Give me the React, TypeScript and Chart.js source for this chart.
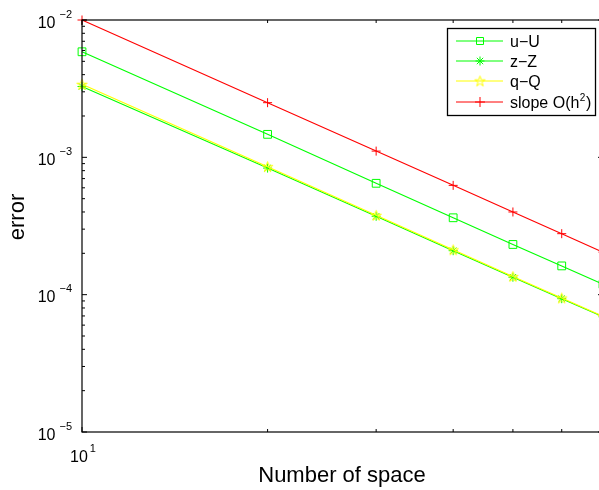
import React, { useEffect, useRef } from "react";
import { Chart, registerables } from "chart.js";

Chart.register(...registerables);

// ---- data ----
const xValues = [10, 20, 30, 40, 50, 60, 70];
const uU = [5.87e-3, 1.47e-3, 6.47e-4, 3.63e-4, 2.32e-4, 1.62e-4, 1.19e-4];
const zZ = [3.28e-3, 8.35e-4, 3.72e-4, 2.09e-4, 1.34e-4, 9.35e-5, 6.9e-5];
const qQ = [3.4e-3, 8.55e-4, 3.78e-4, 2.12e-4, 1.355e-4, 9.45e-5, 6.95e-5];
const slope = [1.0e-2, 2.5e-3, 1.11e-3, 6.25e-4, 4.0e-4, 2.78e-4, 2.04e-4];
const seriesLabels = ["u\u2212U", "z\u2212Z", "q\u2212Q", "slope O(h"];
const slopeSup = "2";
const yTickExps = [-2, -3, -4, -5];
const xTickExps = [1];
const xMinorTicks = [20, 30, 40, 50, 60, 70];
const xLabel = "Number of space";
const yLabel = "error";

const GREEN = "#00ff00";
const YELLOW = "#ffff00";
const RED = "#ff0000";
const FONT = '"Liberation Sans", Arial, Helvetica, sans-serif';

function makePentagram(R: number, color: string, lw: number) {
  const c = document.createElement("canvas");
  const size = Math.ceil(2 * R + 4);
  c.width = size;
  c.height = size;
  const ctx = c.getContext("2d")!;
  const cx = size / 2;
  const cy = size / 2 + 0.5;
  ctx.beginPath();
  for (let i = 0; i < 10; i++) {
    const a = -Math.PI / 2 + (i * Math.PI) / 5;
    const r = i % 2 === 0 ? R : R * 0.382;
    const px = cx + r * Math.cos(a);
    const py = cy + r * Math.sin(a);
    if (i === 0) ctx.moveTo(px, py);
    else ctx.lineTo(px, py);
  }
  ctx.closePath();
  ctx.strokeStyle = color;
  ctx.lineWidth = lw;
  ctx.stroke();
  return c;
}

function supLabel(
  ctx: CanvasRenderingContext2D,
  base: string,
  sup: string,
  x: number,
  baseline: number,
  align: "right" | "center",
  baseSize: number,
  supSize: number,
  gap: number,
  rise: number
) {
  ctx.font = `${baseSize}px ${FONT}`;
  const bw = ctx.measureText(base).width;
  ctx.font = `${supSize}px ${FONT}`;
  const sw = ctx.measureText(sup).width;
  const total = bw + gap + sw;
  const start = align === "right" ? x - total : x - total / 2;
  ctx.textAlign = "left";
  ctx.textBaseline = "alphabetic";
  ctx.font = `${baseSize}px ${FONT}`;
  ctx.fillText(base, start, baseline);
  ctx.font = `${supSize}px ${FONT}`;
  ctx.fillText(sup, start + bw + gap, baseline - rise);
}

export default function App() {
  const ref = useRef<HTMLCanvasElement | null>(null);

  useEffect(() => {
    if (!ref.current) return;
    const penta = makePentagram(5.5, YELLOW, 1);

    const framePlugin = {
      id: "matlabFrame",
      afterDraw(chart: any) {
        const ctx: CanvasRenderingContext2D = chart.ctx;
        const { left, right, top, bottom } = chart.chartArea;
        const xs = chart.scales.x;
        const ys = chart.scales.y;
        ctx.save();
        ctx.strokeStyle = "#000";
        ctx.lineWidth = 1.2;
        ctx.strokeRect(left, top, right - left, bottom - top);
        ctx.lineWidth = 1;
        ctx.beginPath();
        // y ticks
        for (let e = -5; e <= -2; e++) {
          for (let m = 1; m <= 9; m++) {
            const v = m * Math.pow(10, e);
            if (v > 1e-2 + 1e-12) continue;
            const y = ys.getPixelForValue(v);
            const len = m === 1 ? 5 : 3;
            ctx.moveTo(left, y);
            ctx.lineTo(left + len, y);
            ctx.moveTo(right, y);
            ctx.lineTo(right - len, y);
          }
        }
        // x ticks
        const allX = [10, ...xMinorTicks];
        allX.forEach((v) => {
          const x = xs.getPixelForValue(v);
          const len = v === 10 ? 5 : 3;
          ctx.moveTo(x, bottom);
          ctx.lineTo(x, bottom - len);
          ctx.moveTo(x, top);
          ctx.lineTo(x, top + len);
        });
        ctx.stroke();

        ctx.fillStyle = "#000";
        // y tick labels
        yTickExps.forEach((e) => {
          const y = ys.getPixelForValue(Math.pow(10, e));
          supLabel(ctx, "10", "\u2212" + Math.abs(e), left - 10, y + 7.5, "right", 16, 11, 4, 10);
        });
        // x tick labels
        xTickExps.forEach((e) => {
          const x = xs.getPixelForValue(Math.pow(10, e));
          supLabel(ctx, "10", String(e), x + 1, bottom + 30, "center", 16, 11, 2, 10);
        });

        // axis titles
        ctx.font = `22px ${FONT}`;
        ctx.textAlign = "center";
        ctx.textBaseline = "alphabetic";
        ctx.fillText(xLabel, (left + right) / 2 - 0.5, 481.5);
        ctx.save();
        ctx.translate(24, 217);
        ctx.rotate(-Math.PI / 2);
        ctx.fillText(yLabel, 0, 0);
        ctx.restore();

        // legend
        const bx = 447.5, by = 28.5, bw = 148, bh = 87;
        ctx.fillStyle = "#fff";
        ctx.fillRect(bx, by, bw, bh);
        ctx.strokeStyle = "#000";
        ctx.lineWidth = 1.3;
        ctx.strokeRect(bx, by, bw, bh);
        const rows = [41, 61, 81, 102];
        const colors = [GREEN, GREEN, YELLOW, RED];
        const lx0 = 456, lx1 = 503, mx = 480;
        rows.forEach((ry, i) => {
          ctx.strokeStyle = colors[i];
          ctx.lineWidth = 1;
          ctx.beginPath();
          ctx.moveTo(lx0, ry);
          ctx.lineTo(lx1, ry);
          ctx.stroke();
          ctx.beginPath();
          if (i === 0) {
            ctx.rect(mx - 3.5, ry - 3.5, 7, 7);
          } else if (i === 1) {
            const r = 4.5;
            const d = r * Math.SQRT1_2;
            ctx.moveTo(mx - r, ry); ctx.lineTo(mx + r, ry);
            ctx.moveTo(mx, ry - r); ctx.lineTo(mx, ry + r);
            ctx.moveTo(mx - d, ry - d); ctx.lineTo(mx + d, ry + d);
            ctx.moveTo(mx - d, ry + d); ctx.lineTo(mx + d, ry - d);
          } else if (i === 3) {
            const r = 5;
            ctx.moveTo(mx - r, ry); ctx.lineTo(mx + r, ry);
            ctx.moveTo(mx, ry - r); ctx.lineTo(mx, ry + r);
          }
          ctx.stroke();
          if (i === 2) {
            ctx.drawImage(penta, mx - penta.width / 2, ry - penta.height / 2);
          }
          ctx.fillStyle = "#000";
          ctx.font = `16px ${FONT}`;
          ctx.textAlign = "left";
          ctx.textBaseline = "alphabetic";
          ctx.fillText(seriesLabels[i], 510, ry + 6);
          if (i === 3) {
            const w = ctx.measureText(seriesLabels[i]).width;
            ctx.font = `10px ${FONT}`;
            ctx.fillText(slopeSup, 510 + w + 0.5, ry - 1.5);
            const w2 = ctx.measureText(slopeSup).width;
            ctx.font = `16px ${FONT}`;
            ctx.fillText(")", 510 + w + 1 + w2, ry + 6);
          }
        });
        ctx.restore();
      },
    };

    const pts = (arr: number[]) => xValues.map((x, i) => ({ x, y: arr[i] }));

    const chart = new Chart(ref.current, {
      type: "line",
      data: {
        datasets: [
          {
            label: seriesLabels[0],
            data: pts(uU),
            borderColor: GREEN,
            backgroundColor: "transparent",
            borderWidth: 1.1,
            pointStyle: "rect",
            pointRadius: 5.5,
            pointBorderWidth: 1,
            pointBorderColor: GREEN,
            pointBackgroundColor: "transparent",
            clip: false,
            order: 3,
          },
          {
            label: seriesLabels[1],
            data: pts(zZ),
            borderColor: GREEN,
            backgroundColor: "transparent",
            borderWidth: 1.1,
            pointStyle: "star",
            pointRadius: 4.5,
            pointBorderWidth: 1,
            pointBorderColor: GREEN,
            clip: false,
            order: 2,
          },
          {
            label: seriesLabels[2],
            data: pts(qQ),
            borderColor: YELLOW,
            backgroundColor: "transparent",
            borderWidth: 1.1,
            pointStyle: penta as any,
            pointRadius: 5.5,
            clip: false,
            order: 1,
          },
          {
            label: seriesLabels[3],
            data: pts(slope),
            borderColor: RED,
            backgroundColor: "transparent",
            borderWidth: 1.1,
            pointStyle: "cross",
            pointRadius: 4.5,
            pointBorderWidth: 1,
            pointBorderColor: RED,
            clip: false,
            order: 0,
          },
        ] as any,
      },
      options: {
        responsive: false,
        animation: false,
        events: [],
        layout: { padding: { top: 20, right: 17, left: 0, bottom: 0 } },
        plugins: { legend: { display: false }, tooltip: { enabled: false } },
        elements: { line: { tension: 0 } },
        scales: {
          x: {
            type: "logarithmic",
            min: 10,
            max: 70,
            ticks: { display: false },
            grid: { display: false },
            border: { display: false },
            afterFit: (s: any) => {
              s.height = 58;
            },
          },
          y: {
            type: "logarithmic",
            min: 1e-5,
            max: 1e-2,
            ticks: { display: false },
            grid: { display: false },
            border: { display: false },
            afterFit: (s: any) => {
              s.width = 82;
            },
          },
        },
      },
      plugins: [framePlugin],
    });
    return () => chart.destroy();
  }, []);

  return (
    <div
      style={{
        position: "fixed",
        left: 0,
        top: 0,
        width: 599,
        height: 490,
        overflow: "hidden",
        background: "#fff",
      }}
    >
      <canvas ref={ref} width={620} height={490} style={{ width: 620, height: 490, display: "block" }} />
    </div>
  );
}
